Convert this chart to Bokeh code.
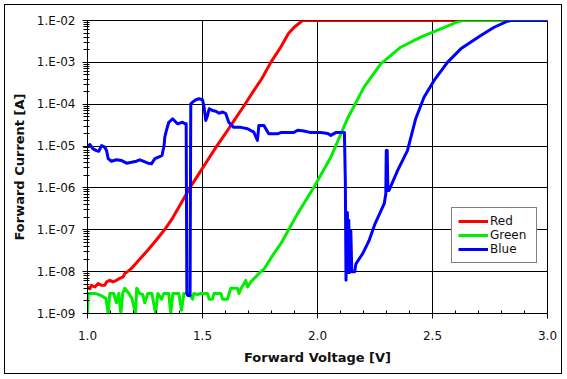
from bokeh.plotting import figure
from bokeh.models import (FixedTicker, CustomJSTickFormatter, Legend, LegendItem, Range1d)
from bokeh.embed import file_html
from bokeh.resources import INLINE

# ---------------- data ----------------
red_v = [1.000, 1.010, 1.017, 1.032, 1.046, 1.061, 1.075, 1.083, 1.097, 1.111, 1.126, 1.140,
         1.155, 1.162, 1.177, 1.191, 1.220, 1.261, 1.300, 1.335, 1.370, 1.410, 1.445, 1.480,
         1.520, 1.562, 1.600, 1.640, 1.685, 1.720, 1.757, 1.797, 1.840, 1.873, 1.900, 1.935, 3.000]
red_i = [4.3e-9, 3.9e-9, 4.7e-9, 4.3e-9, 5.2e-9, 4.7e-9, 4.7e-9, 5.7e-9, 6.2e-9, 5.7e-9, 6.2e-9, 6.9e-9,
         7.5e-9, 9.0e-9, 1.03e-8, 1.19e-8, 1.8e-8, 3.2e-8, 5.8e-8, 1.0e-7, 1.9e-7, 4.6e-7, 1.0e-6, 2.0e-6,
         4.4e-6, 1.0e-5, 2.0e-5, 4.3e-5, 1.0e-4, 2.0e-4, 4.0e-4, 1.0e-3, 2.3e-3, 4.8e-3, 7.0e-3, 1.0e-2, 1.0e-2]

green_v = [1.000, 1.003, 1.036, 1.058, 1.080, 1.090, 1.097, 1.114, 1.126, 1.136, 1.145, 1.153,
           1.162, 1.180, 1.193, 1.209, 1.214, 1.227, 1.240, 1.249, 1.262, 1.280, 1.296, 1.306,
           1.322, 1.332, 1.353, 1.362, 1.371, 1.397, 1.409, 1.419, 1.440, 1.457, 1.462, 1.478,
           1.493, 1.522, 1.529, 1.543, 1.550, 1.580, 1.587, 1.609, 1.616, 1.623, 1.652, 1.659,
           1.667, 1.681, 1.688, 1.696, 1.710, 1.732, 1.753, 1.768, 1.810, 1.840, 1.913, 1.985,
           2.058, 2.130, 2.203, 2.275, 2.362, 2.449, 2.536, 2.614, 2.632, 3.000]
green_i = [1.0e-9, 3.0e-9, 3.0e-9, 2.7e-9, 2.3e-9, 1.0e-9, 3.0e-9, 3.0e-9, 1.8e-9, 3.0e-9, 1.0e-9, 3.0e-9,
           4.0e-9, 3.0e-9, 2.3e-9, 1.0e-9, 4.0e-9, 3.0e-9, 2.85e-9, 1.8e-9, 3.0e-9, 3.0e-9, 1.0e-9, 3.0e-9,
           2.2e-9, 3.0e-9, 3.0e-9, 1.0e-9, 3.0e-9, 3.0e-9, 1.2e-9, 3.0e-9, 3.0e-9, 2.2e-9, 3.0e-9, 2.85e-9,
           3.0e-9, 3.0e-9, 2.2e-9, 2.2e-9, 3.0e-9, 3.0e-9, 2.2e-9, 2.2e-9, 3.0e-9, 4.0e-9, 4.0e-9, 3.0e-9,
           3.9e-9, 5.2e-9, 6.2e-9, 4.3e-9, 5.7e-9, 7.5e-9, 9.9e-9, 1.16e-8, 2.7e-8, 4.6e-8, 2.4e-7, 1.05e-6,
           5.4e-6, 4.5e-5, 2.6e-4, 9.2e-4, 2.3e-3, 4.0e-3, 6.3e-3, 9.5e-3, 1.0e-2, 1.0e-2]

blue_v = [1.000, 1.010, 1.024, 1.039, 1.049, 1.061, 1.075, 1.083, 1.090, 1.104, 1.126, 1.148,
          1.170, 1.191, 1.213, 1.227, 1.242, 1.263, 1.278, 1.293, 1.314, 1.324, 1.333, 1.336,
          1.343, 1.353, 1.370, 1.391, 1.413, 1.424, 1.429, 1.432, 1.436, 1.446, 1.449, 1.457,
          1.471, 1.485, 1.500, 1.507, 1.514, 1.522, 1.529, 1.543, 1.558, 1.572, 1.588, 1.601,
          1.614, 1.636, 1.667, 1.696, 1.723, 1.739, 1.745, 1.767, 1.788, 1.826, 1.840, 1.897,
          1.914, 1.941, 1.971, 2.014, 2.045, 2.058, 2.079, 2.109, 2.117, 2.121, 2.124, 2.130,
          2.133, 2.136, 2.140, 2.145, 2.149, 2.162, 2.167, 2.196, 2.224, 2.250, 2.290, 2.297,
          2.299, 2.303, 2.306, 2.311, 2.348, 2.391, 2.427, 2.463, 2.507, 2.565, 2.623, 2.710,
          2.768, 2.826, 2.840, 3.000]
blue_i = [9.4e-6, 1.09e-5, 8.6e-6, 7.8e-6, 7.5e-6, 1.03e-5, 9.4e-6, 7.8e-6, 5.0e-6, 4.35e-6, 4.7e-6, 4.5e-6,
          3.9e-6, 4.1e-6, 4.35e-6, 4.7e-6, 4.35e-6, 3.9e-6, 3.77e-6, 5.0e-6, 5.6e-6, 5.96e-6, 1.03e-5, 1.63e-5,
          2.35e-5, 3.65e-5, 4.5e-5, 3.4e-5, 3.7e-5, 3.4e-5, 3.4e-5, 3.0e-9, 2.7e-9, 2.7e-9, 1.02e-4, 1.12e-4,
          1.28e-4, 1.35e-4, 1.28e-4, 8.5e-5, 4.1e-5, 5.4e-5, 7.8e-5, 7.1e-5, 6.8e-5, 6.1e-5, 6.5e-5, 6.0e-5,
          3.7e-5, 2.8e-5, 2.8e-5, 2.6e-5, 2.15e-5, 1.36e-5, 3.1e-5, 3.1e-5, 1.96e-5, 1.96e-5, 2.1e-5, 2.1e-5,
          2.4e-5, 2.3e-5, 2.1e-5, 2.1e-5, 2.0e-5, 1.8e-5, 2.1e-5, 2.1e-5, 2.1e-5, 1.5e-6, 6.2e-9, 2.6e-7,
          9.5e-9, 1.7e-7, 9.5e-9, 9.5e-8, 1.0e-8, 1.0e-8, 1.54e-8, 2.67e-8, 5.5e-8, 1.39e-7, 4.2e-7, 7.2e-7,
          7.8e-6, 7.8e-6, 8.7e-7, 8.7e-7, 2.6e-6, 7.8e-6, 4.5e-5, 1.47e-4, 3.7e-4, 1.0e-3, 2.1e-3, 4.4e-3,
          6.9e-3, 9.6e-3, 1.0e-2, 1.0e-2]

series_names = ["Red", "Green", "Blue"]
series_colors = ["#ff0000", "#00ee00", "#0000ff"]

x_ticks = [1.0, 1.5, 2.0, 2.5, 3.0]
x_labels = ["1.0", "1.5", "2.0", "2.5", "3.0"]
y_ticks = [1e-9, 1e-8, 1e-7, 1e-6, 1e-5, 1e-4, 1e-3, 1e-2]
y_labels = ["1.E-09", "1.E-08", "1.E-07", "1.E-06", "1.E-05", "1.E-04", "1.E-03", "1.E-02"]

x_title = "Forward Voltage [V]"
y_title = "Forward Current [A]"

# ---------------- figure ----------------
p = figure(frame_width=460, frame_height=293, y_axis_type="log",
           x_range=Range1d(1.0, 3.0), y_range=Range1d(1e-9, 1e-2),
           output_backend="svg", toolbar_location=None,
           min_border_left=87, min_border_right=19, min_border_top=20, min_border_bottom=65)
p.background_fill_color = "white"
p.border_fill_color = None
p.outline_line_color = "black"
p.outline_line_width = 1
p.styles = {"outline": "1px solid black", "outline-offset": "-5px", "background-color": "white"}

x_minor = [round(1.0 + 0.1 * k, 1) for k in range(1, 20) if k % 5 != 0]
y_minor = [m * t for t in y_ticks[:-1] for m in range(2, 10)]

p.xaxis.ticker = FixedTicker(ticks=x_ticks, minor_ticks=x_minor)
p.yaxis.ticker = FixedTicker(ticks=y_ticks, minor_ticks=y_minor)
p.xgrid.ticker = FixedTicker(ticks=x_ticks)
p.ygrid.ticker = FixedTicker(ticks=y_ticks)

fmt_code = """
let best = -1, bd = 1e9;
for (let k = 0; k < vals.length; k++) {
  const d = Math.abs(Math.log10(vals[k]) - Math.log10(tick));
  if (d < bd) { bd = d; best = k; }
}
return (best >= 0 && bd < 1e-3) ? labs[best] : "";
"""
p.yaxis.formatter = CustomJSTickFormatter(args=dict(vals=y_ticks, labs=y_labels), code=fmt_code)
x_fmt_code = """
let best = -1, bd = 1e9;
for (let k = 0; k < vals.length; k++) {
  const d = Math.abs(vals[k] - tick);
  if (d < bd) { bd = d; best = k; }
}
return (best >= 0 && bd < 1e-6) ? labs[best] : "";
"""
p.xaxis.formatter = CustomJSTickFormatter(args=dict(vals=x_ticks, labs=x_labels), code=x_fmt_code)

for g in (p.xgrid, p.ygrid):
    g.grid_line_color = "black"
    g.grid_line_width = 1
    g.grid_line_alpha = 1.0

for ax in (p.xaxis, p.yaxis):
    ax.axis_line_color = "black"
    ax.major_tick_line_color = "black"
    ax.minor_tick_line_color = "black"
    ax.major_label_text_font = "DejaVu Sans"
    ax.major_label_text_font_size = "12px"
    ax.major_label_text_color = "#111111"
    ax.axis_label_text_font = "DejaVu Sans"
    ax.axis_label_text_font_size = "13px"
    ax.axis_label_text_font_style = "bold"
    ax.axis_label_text_color = "#111111"

p.xaxis.major_tick_out = 5
p.xaxis.major_tick_in = 0
p.xaxis.minor_tick_out = 0
p.xaxis.minor_tick_in = 3
p.xaxis.major_label_standoff = 12
p.xaxis.axis_label_standoff = 7
p.xaxis.axis_label = x_title

p.yaxis.major_tick_out = 5
p.yaxis.major_tick_in = 3
p.yaxis.minor_tick_out = 4
p.yaxis.minor_tick_in = 2
p.yaxis.major_label_standoff = 7
p.yaxis.axis_label_standoff = 7
p.yaxis.axis_label = y_title

renderers = []
for xs, ys, c in ((red_v, red_i, series_colors[0]),
                  (green_v, green_i, series_colors[1]),
                  (blue_v, blue_i, series_colors[2])):
    r = p.line(xs, ys, line_color=c, line_width=3, line_join="round")
    renderers.append(r)

legend = Legend(items=[LegendItem(label=n, renderers=[r]) for n, r in zip(series_names, renderers)],
                location=(364, 50), orientation="vertical",
                border_line_color="black", border_line_width=1,
                background_fill_color="white", background_fill_alpha=1.0,
                padding=6, margin=0, spacing=0,
                glyph_width=30, glyph_height=12, label_height=12, label_width=40,
                label_standoff=2, label_text_font="DejaVu Sans", label_text_font_size="12px",
                label_text_color="#111111")
p.add_layout(legend)

open("out.html", "w").write(file_html(p, INLINE))
